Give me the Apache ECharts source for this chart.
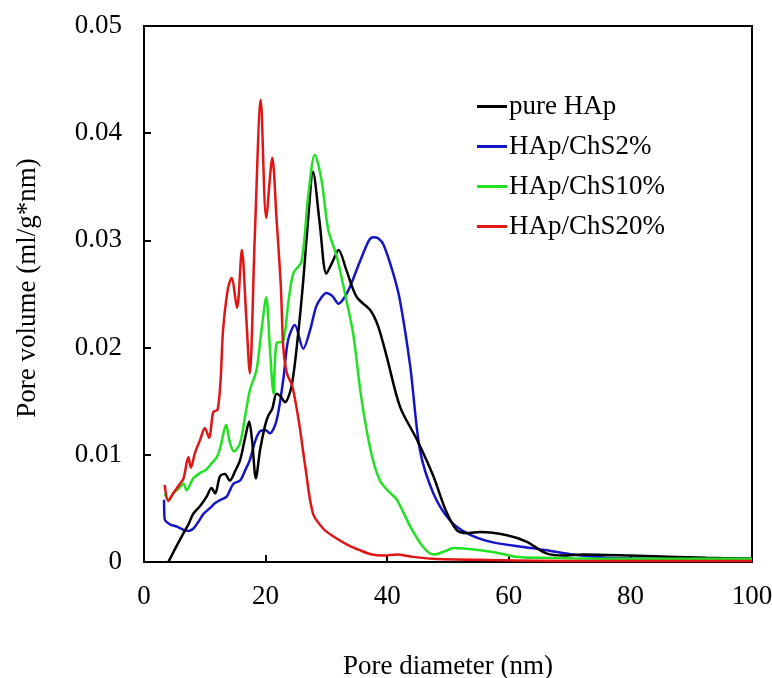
<!DOCTYPE html>
<html>
<head>
<meta charset="utf-8">
<script src="https://cdn.jsdelivr.net/npm/echarts@6/dist/echarts.min.js"></script>
<style>html,body{margin:0;padding:0;background:#fff;}#c{width:772px;height:678px;}</style>
</head>
<body>
<div id="c"></div>
<script>
const seriesNames = ['pure HAp', 'HAp/ChS2%', 'HAp/ChS10%', 'HAp/ChS20%'];
const xTicks = [0, 20, 40, 60, 80, 100];
const yTicks = [0, 0.01, 0.02, 0.03, 0.04, 0.05];

const pureHAp = [[4.0,0.0000],[5.0,0.0011],[6.5,0.0027],[7.3,0.0035],[8.1,0.0045],[9.2,0.0052],[10.3,0.0061],[11.1,0.0069],[11.7,0.0064],[12.5,0.0080],[13.3,0.0082],[14.1,0.0076],[15.0,0.0085],[15.8,0.0095],[16.6,0.0115],[17.3,0.0131],[17.8,0.0112],[18.4,0.0078],[19.1,0.0105],[19.9,0.0127],[20.4,0.0136],[21.1,0.0143],[21.8,0.0157],[22.4,0.0155],[23.2,0.0149],[24.3,0.0165],[25.3,0.0210],[26.2,0.0263],[27.0,0.0320],[27.8,0.0364],[28.9,0.0316],[30.0,0.0269],[31.0,0.0280],[32.0,0.0291],[33.3,0.0272],[35.0,0.0247],[37.2,0.0235],[38.5,0.0220],[39.9,0.0192],[42.1,0.0145],[44.9,0.0114],[47.6,0.0080],[49.5,0.0050],[51.4,0.0030],[53.1,0.0027],[55.3,0.0028],[59.7,0.0025],[62.9,0.0019],[66.2,0.0008],[69.0,0.0006],[72.2,0.0007],[80.0,0.0006],[92.5,0.0004],[100,0.0003]];

const chs2 = [[3.3,0.0058],[3.4,0.0040],[4.3,0.0035],[5.4,0.0033],[6.5,0.0030],[7.3,0.0029],[8.1,0.0031],[9.0,0.0038],[9.8,0.0045],[10.8,0.0050],[11.7,0.0055],[12.6,0.0058],[13.6,0.0061],[14.7,0.0073],[15.8,0.0076],[16.6,0.0085],[17.4,0.0095],[18.3,0.0113],[19.1,0.0122],[20.0,0.0123],[20.7,0.0120],[21.8,0.0132],[22.9,0.0170],[23.7,0.0207],[24.8,0.0221],[26.2,0.0199],[27.3,0.0216],[28.3,0.0238],[29.2,0.0247],[30.0,0.0251],[31.0,0.0248],[32.0,0.0241],[33.0,0.0247],[33.9,0.0257],[35.5,0.0280],[37.0,0.0300],[37.7,0.0303],[38.5,0.0302],[39.4,0.0296],[41.0,0.0269],[42.1,0.0244],[43.8,0.0182],[45.4,0.0104],[47.6,0.0064],[50.3,0.0039],[53.1,0.0027],[56.9,0.0019],[62.4,0.0014],[66.2,0.0011],[70.6,0.0007],[76.1,0.0004],[85.0,0.0003],[100,0.0003]];

const chs10 = [[3.4,0.0064],[4.0,0.0058],[4.8,0.0064],[5.6,0.0068],[6.5,0.0073],[7.0,0.0067],[8.1,0.0078],[9.2,0.0083],[10.2,0.0086],[11.1,0.0092],[12.0,0.0098],[12.6,0.0108],[13.5,0.0128],[14.1,0.0112],[14.8,0.0103],[15.8,0.0111],[16.6,0.0135],[17.4,0.0160],[18.5,0.0179],[19.3,0.0215],[20.1,0.0247],[20.7,0.0200],[21.3,0.0157],[21.8,0.0204],[22.9,0.0206],[23.8,0.0245],[24.6,0.0270],[25.9,0.0280],[27.0,0.0341],[28.1,0.0380],[29.2,0.0356],[30.3,0.0310],[31.7,0.0285],[33.3,0.0244],[34.4,0.0213],[35.8,0.0151],[37.4,0.0101],[38.8,0.0076],[40.2,0.0066],[41.6,0.0058],[43.8,0.0033],[45.9,0.0014],[47.6,0.0007],[49.5,0.0010],[50.9,0.0013],[55.3,0.0011],[58.6,0.0008],[61.0,0.0005],[65.0,0.0004],[80.0,0.0003],[100,0.0003]];

const chs20 = [[3.4,0.0072],[4.0,0.0057],[4.8,0.0064],[5.8,0.0072],[6.5,0.0078],[7.3,0.0098],[7.7,0.0088],[8.4,0.0102],[9.3,0.0115],[10.0,0.0125],[10.7,0.0116],[11.4,0.0140],[12.1,0.0142],[12.6,0.0170],[13.0,0.0216],[13.8,0.0255],[14.4,0.0265],[15.3,0.0237],[16.1,0.0291],[16.8,0.0230],[17.4,0.0176],[18.2,0.0300],[19.2,0.0431],[20.1,0.0321],[21.1,0.0377],[21.8,0.0320],[22.5,0.0258],[22.9,0.0201],[23.5,0.0176],[24.4,0.0164],[25.5,0.0130],[26.5,0.0090],[27.8,0.0045],[29.5,0.0031],[31.1,0.0024],[33.5,0.0016],[35.5,0.0011],[37.5,0.0007],[39.4,0.0006],[41.6,0.0007],[44.0,0.0005],[47.5,0.0003],[55.0,0.0002],[70.0,0.0001],[100,0.0001]];

const colors = ['#000000', '#1515c8', '#22e022', '#e01515'];
const dataSets = [pureHAp, chs2, chs10, chs20];

const font = '"Liberation Serif", "Times New Roman", serif';
const chart = echarts.init(document.getElementById('c'), null, {renderer: 'canvas'});
chart.setOption({
  animation: false,
  backgroundColor: '#fff',
  grid: {left: 144, right: 20, top: 26, bottom: 116, containLabel: false, outerBoundsMode: 'none', show: true, borderColor: '#000', borderWidth: 2, backgroundColor: 'transparent'},
  legend: {
    orient: 'vertical', left: 472, top: 88, itemGap: 13,
    icon: 'rect', itemWidth: 30, itemHeight: 3,
    textStyle: {fontFamily: font, fontSize: 27, color: '#000', padding: [0,0,0,-3]},
    data: seriesNames
  },
  xAxis: {
    type: 'value', min: 0, max: 100, interval: 20,
    name: 'Pore diameter (nm)', nameLocation: 'middle', nameGap: 91,
    nameTextStyle: {fontFamily: font, fontSize: 27, color: '#000'},
    axisLine: {lineStyle: {color: '#000', width: 2}},
    axisTick: {inside: true, length: 7, lineStyle: {color: '#000', width: 2}},
    axisLabel: {fontFamily: font, fontSize: 27, color: '#000', margin: 21},
    splitLine: {show: false}
  },
  yAxis: {
    type: 'value', min: 0, max: 0.05, interval: 0.01,
    name: 'Pore volume (ml/g*nm)', nameLocation: 'middle', nameGap: 103, nameRotate: 90,
    nameTextStyle: {fontFamily: font, fontSize: 27, color: '#000', padding: [0, 0, 0, 12]},
    axisLine: {lineStyle: {color: '#000', width: 2}},
    axisTick: {inside: true, length: 7, lineStyle: {color: '#000', width: 2}},
    axisLabel: {fontFamily: font, fontSize: 27, color: '#000', margin: 22, formatter: v => (v === 0 ? '0' : v.toFixed(2))},
    splitLine: {show: false}
  },
  series: seriesNames.map((n, i) => ({
    name: n, type: 'line', data: dataSets[i], showSymbol: false, symbol: 'none',
    smooth: 0.3,
    lineStyle: {color: colors[i], width: 2.5}, itemStyle: {color: colors[i]},
    z: [3, 2, 4, 5][i]
  }))
});
</script>
</body>
</html>
